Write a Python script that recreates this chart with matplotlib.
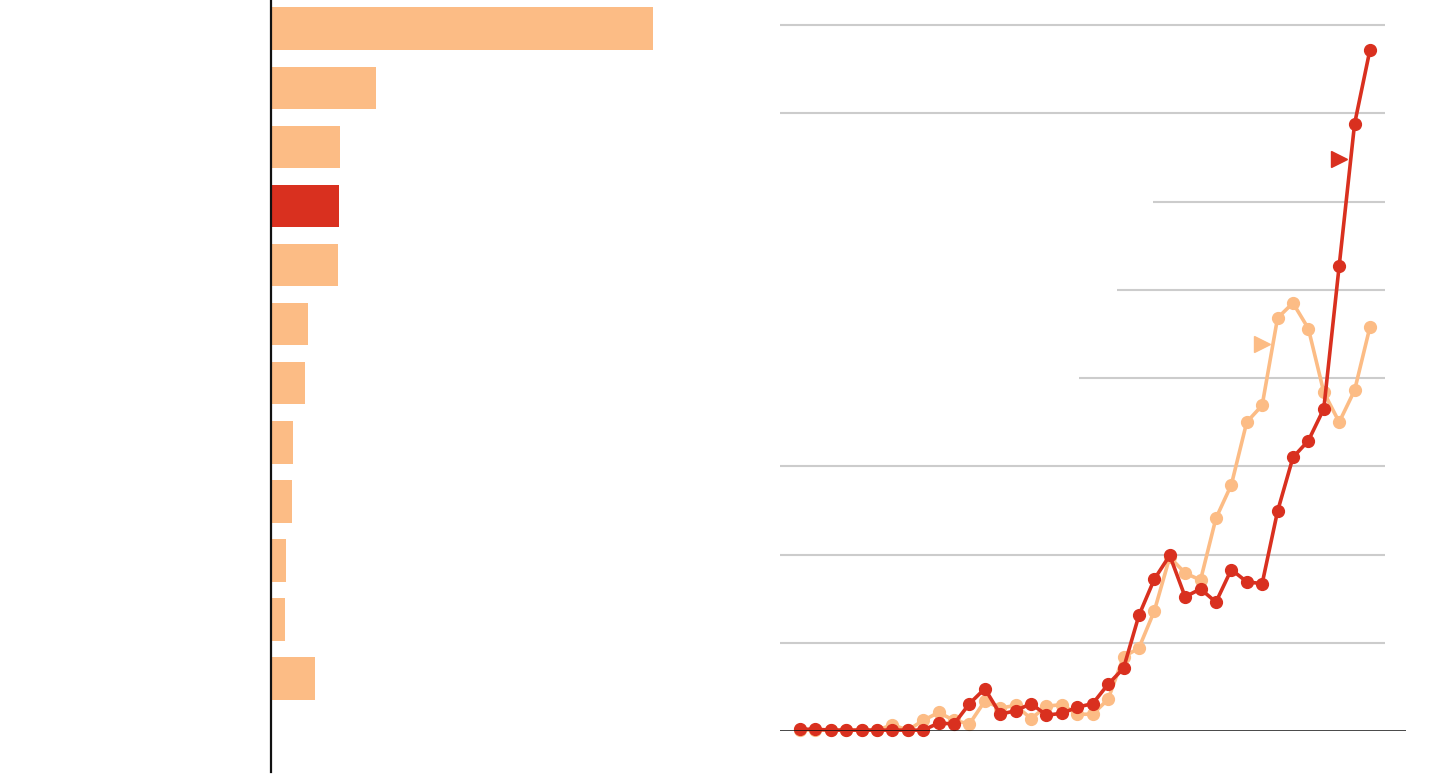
import matplotlib
matplotlib.use("Agg")
import matplotlib.pyplot as plt
import numpy as np

# ---------------- data ----------------
bar_categories = ["A", "B", "C", "D", "E", "F", "G", "H", "I", "J", "K", "L"]
bar_values = [38.2, 10.5, 6.9, 6.8, 6.7, 3.7, 3.4, 2.2, 2.1, 1.5, 1.4, 4.4]
highlight_category = "D"

periods = list(range(38))
series_highlight = [0.02, 0.02, 0.01, 0.01, 0.01, 0.01, 0.01, 0.01, 0.01, 0.09,
                    0.08, 0.31, 0.48, 0.19, 0.23, 0.31, 0.18, 0.20, 0.27, 0.31,
                    0.53, 0.71, 1.31, 1.72, 1.99, 1.52, 1.61, 1.46, 1.83, 1.69,
                    1.67, 2.49, 3.10, 3.29, 3.65, 5.27, 6.88, 7.72]
series_other = [0.01, 0.01, 0.01, 0.01, 0.01, 0.01, 0.07, 0.01, 0.12, 0.21,
                0.12, 0.08, 0.34, 0.26, 0.29, 0.14, 0.28, 0.30, 0.19, 0.19,
                0.36, 0.84, 0.94, 1.36, 1.97, 1.79, 1.71, 2.41, 2.79, 3.50,
                3.69, 4.68, 4.85, 4.56, 3.84, 3.50, 3.86, 4.58]
grid_levels = [1, 2, 3, 4, 5, 6, 7, 8]
grid_starts = [None, None, None, 18.1, 20.6, 22.9, None, None]  # label gaps
label_highlight_pos = (35, 6.48)
label_other_pos = (30, 4.39)

LIGHT = "#FCBC85"
RED = "#D9301F"

W, H = 1440, 782
fig = plt.figure(figsize=(W / 100, H / 100), dpi=100)

# ---------------- bar chart ----------------
bax = fig.add_axes([271.3 / W, 10 / H, (720 - 271.3) / W, 772 / H])
ypos = np.arange(len(bar_categories))
colors = [RED if c == highlight_category else LIGHT for c in bar_categories]
bax.barh(ypos, bar_values, height=0.72, color=colors, zorder=2)
bax.set_xlim(0, (720 - 271.3) / 10)
bax.set_ylim(len(bar_categories) - 1 + 1.58, -0.486)
for s in ["top", "right", "bottom"]:
    bax.spines[s].set_visible(False)
bax.spines["left"].set_linewidth(1.6)
bax.spines["left"].set_color("#111111")
bax.spines["left"].set_zorder(3)
bax.set_xticks([])
bax.set_yticks([])

# ---------------- line chart ----------------
x0, step = 800, 15.405
xl = (780 - x0) / step
xr = (1406 - x0) / step
unit = 88.25
lax = fig.add_axes([780 / W, (782 - 731) / H, (1406 - 780) / W, (731 - 5) / H])
lax.set_xlim(xl, xr)
lax.set_ylim(0, (731 - 5) / unit)
for lvl, st in zip(grid_levels, grid_starts):
    lax.hlines(lvl, xl if st is None else st, 38, color="#CCCCCC", lw=1.5, zorder=1)
lax.axhline(0, color="#111111", lw=1.8, zorder=5)

lax.plot(periods, series_other, color=LIGHT, lw=2.6, marker="o", ms=8.5,
         solid_joinstyle="round", zorder=3, clip_on=False)
lax.plot(periods, series_highlight, color=RED, lw=2.6, marker="o", ms=8.5,
         solid_joinstyle="round", zorder=4, clip_on=False)
lax.plot([label_highlight_pos[0]], [label_highlight_pos[1]], marker=">", ms=11,
         color=RED, ls="none", zorder=4)
lax.plot([label_other_pos[0]], [label_other_pos[1]], marker=">", ms=11,
         color=LIGHT, ls="none", zorder=4)
for s in lax.spines.values():
    s.set_visible(False)
lax.set_xticks([])
lax.set_yticks([])

fig.savefig("out.png", dpi=100)
